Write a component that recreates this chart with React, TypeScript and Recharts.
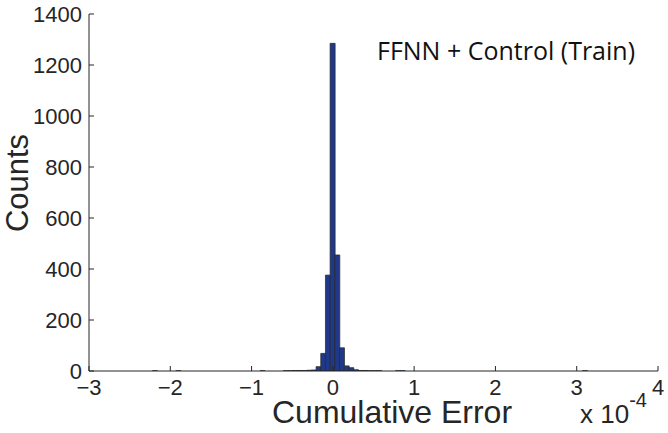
import { Bar, BarChart, XAxis, YAxis } from 'recharts';

// histogram bin centres (x 1e-4) and their counts
const binCenters = [
  -2.19, -1.9025, -0.8675, -0.58, -0.5225, -0.465, -0.4075, -0.35, -0.2925,
  -0.235, -0.1775, -0.12, -0.0625, -0.005, 0.0525, 0.11, 0.1675, 0.225,
  0.2825, 0.34, 0.3975, 0.455, 0.5125, 0.57, 0.8, 0.8575, 3.1,
];
const binCounts = [
  1, 1, 1, 1, 1, 2, 2, 2, 3,
  4, 17, 69, 376, 1285, 455, 91, 20, 13,
  5, 2, 2, 1, 1, 1, 1, 1, 1,
];
const xTicks = [-3, -2, -1, 0, 1, 2, 3, 4];
const yTicks = [0, 200, 400, 600, 800, 1000, 1200, 1400];

const data = binCenters.map((x, i) => ({ x, count: binCounts[i] }));

const W = 668;
const H = 433;
const AXIS = '#262626';
const FONT = '"Liberation Sans", Arial, Helvetica, sans-serif';

const fmtX = (v: number) => (v < 0 ? `\u2212${Math.abs(v)}` : `${v}`);
const blankTick = () => <g />;

export default function App() {
  const tickStyle = { fontSize: 22, fill: AXIS, fontFamily: FONT };
  return (
    <div style={{ position: 'absolute', left: 0, top: 0, width: W, height: H, background: '#fff' }}>
      <BarChart
        width={W}
        height={H}
        data={data}
        margin={{ top: 14, right: 10, left: 0, bottom: 0 }}
        barCategoryGap={0}
        barGap={0}
      >
        <XAxis
          dataKey="x"
          type="number"
          domain={[-3, 4]}
          ticks={xTicks}
          allowDataOverflow
          height={62}
          tickSize={-5}
          tickMargin={13}
          tick={tickStyle}
          fontSize={22}
          fontFamily={FONT}
          tickFormatter={fmtX}
          stroke={AXIS}
          interval={0}
        />
        <XAxis
          xAxisId="top"
          orientation="top"
          dataKey="x"
          type="number"
          domain={[-3, 4]}
          ticks={xTicks}
          allowDataOverflow
          height={0}
          tickSize={-5}
          tick={blankTick}
          stroke={AXIS}
          interval={0}
        />
        <YAxis
          domain={[0, 1400]}
          ticks={yTicks}
          allowDataOverflow
          width={89}
          tickSize={-5}
          tickMargin={12}
          tick={tickStyle}
          fontSize={22}
          fontFamily={FONT}
          stroke={AXIS}
          interval={0}
        />
        <YAxis
          yAxisId="right"
          orientation="right"
          domain={[0, 1400]}
          ticks={yTicks}
          allowDataOverflow
          width={0}
          tickSize={-5}
          tick={blankTick}
          stroke={AXIS}
          interval={0}
        />
        <Bar dataKey="count" fill="#1f3889" stroke="#2b2b2b" strokeWidth={0.75} isAnimationActive={false} />
      </BarChart>
      <svg width={W} height={H} style={{ position: 'absolute', left: 0, top: 0, pointerEvents: 'none' }}>
        <text x={-183} y={28} transform="rotate(-90)" textAnchor="middle" fontSize={31} fontFamily={FONT} fill={AXIS}>
          Counts
        </text>
        <text x={272} y={423} fontSize={32} fontFamily={FONT} fill={AXIS}>
          Cumulative Error
        </text>
        <text x={580} y={423} fontSize={26} fontFamily={FONT} fill={AXIS}>
          x 10
          <tspan dy={-16} fontSize={20}>-4</tspan>
        </text>
        <text x={377} y={60} fontSize={26} fontFamily='"Open Sans", "Noto Sans", sans-serif' fill="#111" textLength={258} lengthAdjust="spacingAndGlyphs">
          FFNN + Control (Train)
        </text>
      </svg>
    </div>
  );
}
